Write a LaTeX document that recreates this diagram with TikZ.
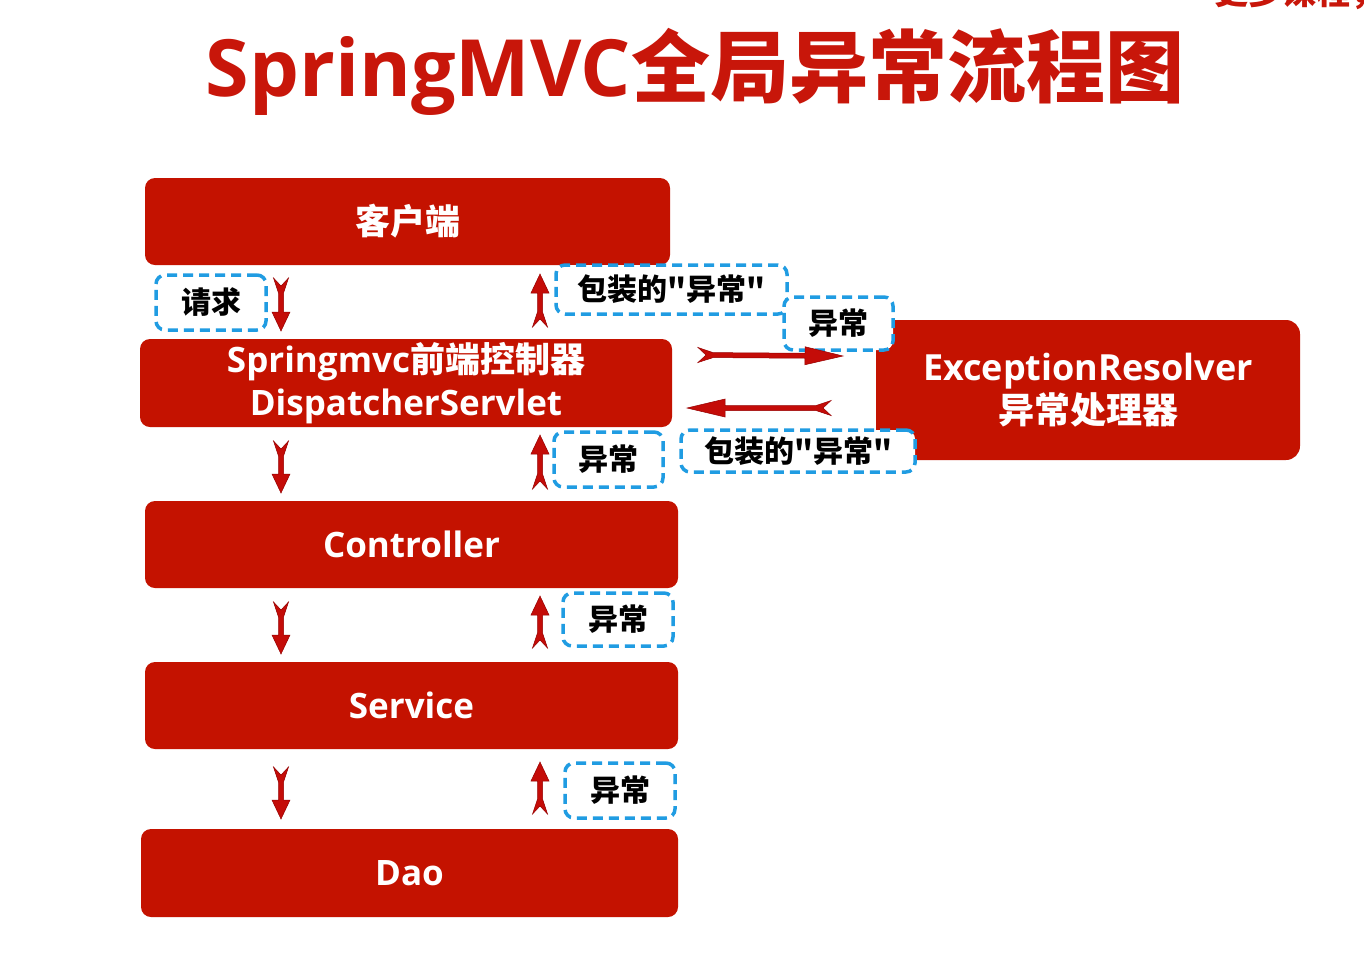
\documentclass[tikz,border=0pt]{standalone}
\usepackage{fontspec}
\setmainfont{Open Sans}
\newfontfamily\cjk{Noto Sans CJK SC}
\usetikzlibrary{calc}
\definecolor{boxred}{RGB}{196,18,0}
\definecolor{titlered}{RGB}{200,22,10}
\definecolor{dashblue}{RGB}{32,156,226}
\definecolor{arrred}{RGB}{196,12,8}
\definecolor{arrdark}{RGB}{150,0,0}
\begin{document}
\begin{tikzpicture}[x=1pt,y=-1pt,
  redbox/.style={fill=boxred, rounded corners=10pt, inner sep=0pt, text=white,
    font=\bfseries\fontsize{35}{43}\selectfont, align=center},
  tagbox/.style={draw=dashblue, fill=white, line width=3.5pt, dash pattern=on 10pt off 6pt,
    rounded corners=9pt, inner sep=0pt, font=\cjk\bfseries\fontsize{30}{32}\selectfont},
  notch/.style={fill=arrred, draw=arrdark, line width=0.5pt, line join=miter,
    to path={
      ($(\tikztostart)!8pt!(\tikztotarget)$)
      -- ($(\tikztostart)!7.5pt!90:(\tikztotarget)$)
      -- ($(\tikztostart)!15pt!(\tikztotarget)!2.5pt!90:(\tikztotarget)$)
      -- ($(\tikztotarget)!#1!(\tikztostart)!2.5pt!90:(\tikztotarget)$)
      -- ($(\tikztotarget)!#1!(\tikztostart)!9pt!90:(\tikztotarget)$)
      -- (\tikztotarget)
      -- ($(\tikztotarget)!#1!(\tikztostart)!9pt!-90:(\tikztotarget)$)
      -- ($(\tikztotarget)!#1!(\tikztostart)!2.5pt!-90:(\tikztotarget)$)
      -- ($(\tikztostart)!15pt!(\tikztotarget)!2.5pt!-90:(\tikztotarget)$)
      -- ($(\tikztostart)!7.5pt!-90:(\tikztotarget)$)
      -- cycle}},
  notch/.default=19pt
]
\useasboundingbox (0,0) rectangle (1364,962);
\fill[white] (0,0) rectangle (1364,962);

% watermark (partly cut off, as in the reference)
\begin{scope}
\clip (0,0) rectangle (1364,962);
\node[anchor=base west, text=titlered, font=\cjk\bfseries\fontsize{34}{36}\selectfont, inner sep=0pt] (more) at (1214,4) {更多课程，};
\end{scope}

% title
\node[font=\bfseries\fontsize{79}{82}\selectfont, text=titlered, anchor=base, inner sep=0pt] (title) at (695,96) {SpringMVC{\cjk 全局异常流程图}};

% main boxes
\node[redbox, minimum width=525pt, minimum height=87pt] (client) at (407.5,221.5) {\cjk 客户端};
\node[redbox, minimum width=532pt, minimum height=88pt] (dispatcher) at (406,383) {Springmvc{\cjk 前端控制器}\\DispatcherServlet};
\node[redbox, minimum width=533pt, minimum height=87pt] (controller) at (411.5,544.5) {Controller};
\node[redbox, minimum width=533pt, minimum height=87pt] (service) at (411.5,705.5) {Service};
\node[redbox, minimum width=537pt, minimum height=88pt] (dao) at (409.5,873) {Dao};
\node[redbox, minimum width=424pt, minimum height=140pt, rounded corners=14pt, font=\bfseries\fontsize{36}{43}\selectfont] (resolver) at (1088,390) {ExceptionResolver\\{\cjk 异常处理器}};

% dashed tags
\node[tagbox, minimum width=110pt, minimum height=55pt] (req) at (211,302.5) {请求};
\node[tagbox, minimum width=231pt, minimum height=49pt] (wrapA) at (671.5,289.5) {包装的"异常"};
\node[tagbox, minimum width=109pt, minimum height=53pt] (excR) at (838.5,323.5) {异常};
\node[tagbox, minimum width=109pt, minimum height=55pt] (excD) at (608.5,459.5) {异常};
\node[tagbox, minimum width=234pt, minimum height=42pt] (wrapB) at (798,451) {包装的"异常"};
\node[tagbox, minimum width=110pt, minimum height=53pt] (excC) at (618,619.5) {异常};
\node[tagbox, minimum width=110pt, minimum height=55pt] (excS) at (620,790.5) {异常};

% arrow end points
\coordinate (d1a) at (281,278); \coordinate (d1b) at (281,331);
\coordinate (d2a) at (281,441); \coordinate (d2b) at (281,493);
\coordinate (d3a) at (281,602); \coordinate (d3b) at (281,654);
\coordinate (d4a) at (281,767); \coordinate (d4b) at (281,819);
\coordinate (u1a) at (540,327); \coordinate (u1b) at (540,274);
\coordinate (u2a) at (540,489); \coordinate (u2b) at (540,435);
\coordinate (u3a) at (540,648); \coordinate (u3b) at (540,596);
\coordinate (u4a) at (540,814); \coordinate (u4b) at (540,762);
\coordinate (ra) at (698,355) ; \coordinate (rb) at (843,356);
\coordinate (la) at (831,408); \coordinate (lb) at (687,408);

\foreach \a in {d1,d2,d3,d4,u1,u2,u3,u4}
  \path[notch] (\a a) to (\a b);
\path[notch=38pt] (ra) to (rb);
\path[notch=38pt] (la) to (lb);
\end{tikzpicture}
\end{document}
